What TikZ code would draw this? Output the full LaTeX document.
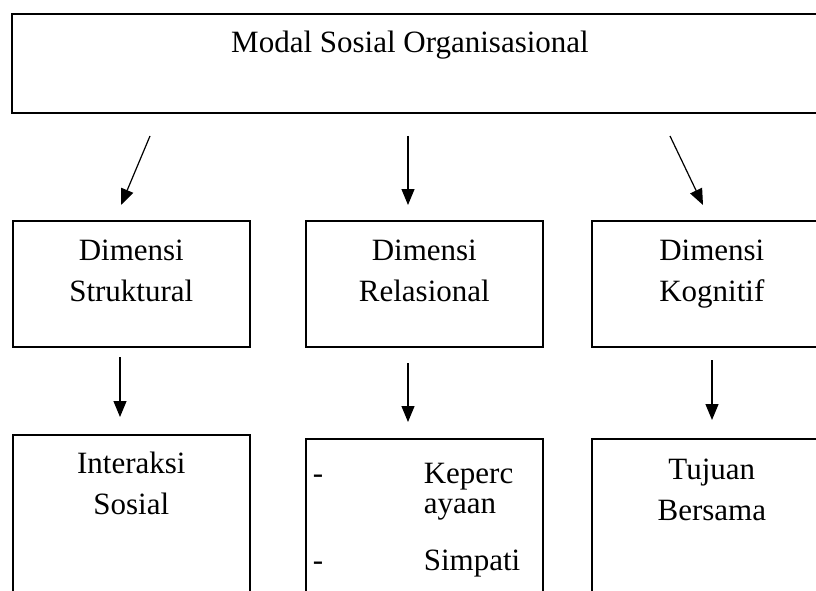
\documentclass[tikz,border=0pt]{standalone}
\usepackage{fontspec}
\setmainfont{Liberation Serif}
\usetikzlibrary{arrows.meta}

\begin{document}
\begin{tikzpicture}[x=1pt, y=-1pt, line width=1.6pt,
    box/.style={draw, rectangle, anchor=north west, inner sep=0pt},
    lbl/.style={font=\fontsize{31}{41}\selectfont, align=center, anchor=base, inner sep=0pt},
    item/.style={font=\fontsize{31}{30}\selectfont, align=left, anchor=base west, inner sep=0pt},
    arr/.style={line width=1.2pt, -{Triangle[length=16pt, width=13pt]}}]
  \clip (0,0) rectangle (816,591);

  \node[box, minimum width=820pt, minimum height=99pt] (modal) at (11,13) {};
  \node[lbl] (modaltxt) at (410,53) {Modal Sosial Organisasional};

  \node[box, minimum width=237pt, minimum height=126pt] (strukt) at (12,220) {};
  \node[box, minimum width=237pt, minimum height=126pt] (relas) at (305,220) {};
  \node[box, minimum width=240pt, minimum height=126pt] (kogn) at (591,220) {};
  \node[lbl] (strukttxt) at (strukt.north |- 0,301) {Dimensi\\Struktural};
  \node[lbl] (relastxt) at (relas.north |- 0,301) {Dimensi\\Relasional};
  \node[lbl] (kogntxt) at (kogn.north |- 0,301) {Dimensi\\Kognitif};

  \node[box, minimum width=237pt, minimum height=180pt] (inter) at (12,434) {};
  \node[box, minimum width=237pt, minimum height=180pt] (percaya) at (305,438) {};
  \node[box, minimum width=240pt, minimum height=180pt] (tujuan) at (591,438) {};
  \node[lbl] (intertxt) at (inter.north |- 0,514) {Interaksi\\Sosial};
  \node[lbl] (tujuantxt) at (tujuan.north |- 0,520) {Tujuan\\Bersama};
  \node[item] (dasha) at (312,483) {-};
  \node[item] (keperc) at (423,513) {Keperc\\ayaan};
  \node[item] (dashb) at (312,570) {-};
  \node[item] (simpati) at (423,570) {Simpati};

  \coordinate (a1s) at (150,136);
  \coordinate (a1e) at (121,205);
  \coordinate (a2s) at (408,136);
  \coordinate (a2e) at (408,205);
  \coordinate (a3s) at (670,136);
  \coordinate (a3e) at (703,205);
  \coordinate (b1s) at (120,357);
  \coordinate (b1e) at (120,417);
  \coordinate (b2s) at (408,363);
  \coordinate (b2e) at (408,422);
  \coordinate (b3s) at (712,360);
  \coordinate (b3e) at (712,420);

  \draw[arr] (a1s)--(a1e);
  \draw[arr] (a2s)--(a2e);
  \draw[arr] (a3s)--(a3e);
  \draw[arr] (b1s)--(b1e);
  \draw[arr] (b2s)--(b2e);
  \draw[arr] (b3s)--(b3e);
\end{tikzpicture}
\end{document}
